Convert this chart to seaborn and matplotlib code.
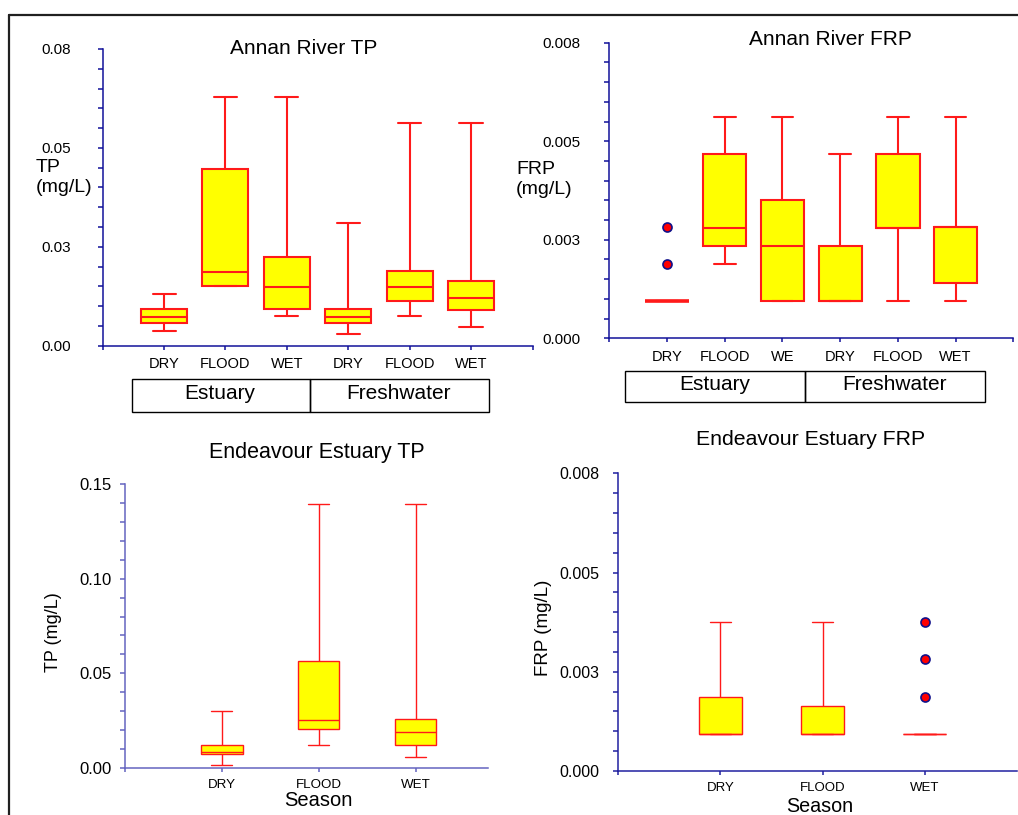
import numpy as np
import pandas as pd
import matplotlib
matplotlib.use("Agg")
import matplotlib.pyplot as plt
import seaborn as sns
from matplotlib.patches import Rectangle
from matplotlib.ticker import MultipleLocator, FixedLocator, FixedFormatter

# ---------------- data ----------------
annan_cats = ["Estuary DRY", "Estuary FLOOD", "Estuary WET",
              "Freshwater DRY", "Freshwater FLOOD", "Freshwater WET"]
annan_tp_ticklabels = ["DRY", "FLOOD", "WET", "DRY", "FLOOD", "WET"]
annan_frp_ticklabels = ["DRY", "FLOOD", "WE", "DRY", "FLOOD", "WET"]
annan_group_labels = ["Estuary", "Freshwater"]

annan_tp_lo = [0.0037, 0.0151, 0.0075, 0.0029, 0.0075, 0.0047]
annan_tp_q1 = [0.0057, 0.0151, 0.0094, 0.0057, 0.0112, 0.0089]
annan_tp_med = [0.0073, 0.0186, 0.0149, 0.0073, 0.0149, 0.0121]
annan_tp_q3 = [0.0094, 0.0446, 0.0225, 0.0094, 0.0188, 0.0164]
annan_tp_hi = [0.0131, 0.0629, 0.0629, 0.0310, 0.0564, 0.0564]

annan_frp_lo = [0.00094, 0.00189, 0.00094, 0.00094, 0.00095, 0.00095]
annan_frp_q1 = [0.00094, 0.00234, 0.00094, 0.00094, 0.00279, 0.00141]
annan_frp_med = [0.00094, 0.00280, 0.00233, 0.00094, 0.00279, 0.00282]
annan_frp_q3 = [0.00094, 0.00468, 0.00352, 0.00234, 0.00468, 0.00282]
annan_frp_hi = [0.00094, 0.00561, 0.00561, 0.00468, 0.00561, 0.00561]
annan_frp_out_cat = ["Estuary DRY", "Estuary DRY"]
annan_frp_out_val = [0.00282, 0.00189]

endv_cats = ["DRY", "FLOOD", "WET"]
endv_tp_lo = [0.0014, 0.0118, 0.0058]
endv_tp_q1 = [0.0071, 0.0207, 0.0118]
endv_tp_med = [0.0085, 0.0251, 0.0191]
endv_tp_q3 = [0.0118, 0.0563, 0.0259]
endv_tp_hi = [0.0298, 0.1398, 0.1398]

endv_frp_lo = [0.00092, 0.00092, 0.00092]
endv_frp_q1 = [0.00092, 0.00092, 0.00092]
endv_frp_med = [0.00092, 0.00092, 0.00092]
endv_frp_q3 = [0.00187, 0.00163, 0.00092]
endv_frp_hi = [0.00375, 0.00375, 0.00092]
endv_frp_out_cat = ["WET", "WET", "WET"]
endv_frp_out_val = [0.00375, 0.00281, 0.00187]

tp_ticks_a = [0.0, 0.025, 0.05, 0.075]
tp_ticklabels_a = ["0.00", "0.03", "0.05", "0.08"]
frp_ticks = [0.0, 0.0025, 0.005, 0.0075]
frp_ticklabels = ["0.000", "0.003", "0.005", "0.008"]
tp_ticks_e = [0.0, 0.05, 0.10, 0.15]
tp_ticklabels_e = ["0.00", "0.05", "0.10", "0.15"]

# ---------------- style ----------------
sns.set_style("ticks")
plt.rcParams['font.family'] = ['Liberation Sans', 'DejaVu Sans']
plt.rcParams['text.color'] = 'black'
plt.rcParams['axes.labelcolor'] = 'black'
plt.rcParams['xtick.color'] = 'black'
plt.rcParams['ytick.color'] = 'black'

W, H = 1018, 815
fig = plt.figure(figsize=(W / 100, H / 100), dpi=100)

YELLOW = "#FFFF00"
RED = "#FF1A1A"


def fx(x):
    return x / W


def fy(y):
    return 1 - y / H


def ax_at(left, top, right, bottom):
    return fig.add_axes([fx(left), fy(bottom), (right - left) / W, (bottom - top) / H])


def draw_boxes(ax, cats, lo, q1, med, q3, hi, width, lw, flat_lw=None):
    rows = []
    for c, a, b, m, d, e in zip(cats, lo, q1, med, q3, hi):
        for v in (a, b, m, d, e):
            rows.append((c, v))
    df = pd.DataFrame(rows, columns=["group", "value"])
    sns.boxplot(data=df, x="group", y="value", order=cats, whis=(0, 100),
                width=width, color=YELLOW, saturation=1, linecolor=RED,
                linewidth=lw, fliersize=0, ax=ax)
    if flat_lw is not None:
        # groups whose whole distribution collapses to one value draw as a thick bar
        for p in ax.patches:
            ext = p.get_path().get_extents(p.get_patch_transform())
            verts = p.get_path().vertices
            if np.ptp(verts[:, 1]) == 0:
                p.set_linewidth(flat_lw)


def draw_outliers(ax, cats, out_cat, out_val, size):
    df = pd.DataFrame({"group": out_cat, "value": out_val})
    sns.stripplot(data=df, x="group", y="value", order=cats, jitter=False,
                  color="#FF0000", edgecolor="#10108A", linewidth=1.2,
                  size=size, ax=ax, zorder=5)


def style_axis(ax, axcol, xlim, xticks, xticklabels, ylim, yticks, yticklabels,
               yminor, xlab_size, ylab_size, xpad, ypad, spw):
    ax.set_xlabel("")
    ax.set_ylabel("")
    ax.set_xlim(*xlim)
    ax.set_ylim(*ylim)
    ax.xaxis.set_major_locator(FixedLocator(xticks))
    ax.xaxis.set_major_formatter(FixedFormatter(xticklabels))
    ax.yaxis.set_major_locator(FixedLocator(yticks))
    ax.yaxis.set_major_formatter(FixedFormatter(yticklabels))
    ax.yaxis.set_minor_locator(MultipleLocator(yminor))
    for s in ["top", "right"]:
        ax.spines[s].set_visible(False)
    for s in ["left", "bottom"]:
        ax.spines[s].set_color(axcol)
        ax.spines[s].set_linewidth(spw)
    ax.tick_params(axis="x", which="major", direction="out", length=3.2, width=spw,
                   color=axcol, labelsize=xlab_size, pad=xpad, labelcolor="black")
    ax.tick_params(axis="y", which="major", direction="out", length=3.6, width=spw,
                   color=axcol, labelsize=ylab_size, pad=ypad, labelcolor="black")
    ax.tick_params(axis="y", which="minor", direction="out", length=3.6, width=spw,
                   color=axcol)
    ax.tick_params(axis="x", which="minor", bottom=False)
    ax.patch.set_alpha(0)


# ---------------- Annan River TP ----------------
ax1 = ax_at(102.7, 49, 533, 345.7)
draw_boxes(ax1, annan_cats, annan_tp_lo, annan_tp_q1, annan_tp_med, annan_tp_q3,
           annan_tp_hi, 0.75, 1.5)
style_axis(ax1, "#12129A", (-1, 6.01), [-1, 0, 1, 2, 3, 4, 5, 6.01],
           [""] + annan_tp_ticklabels + [""], (0, 0.075), tp_ticks_a, tp_ticklabels_a,
           0.005, 10.5, 11, 5, 19, 1.1)
fig.text(fx(303.3), fy(54), "Annan River TP", ha="center", va="baseline", fontsize=15)
fig.text(fx(35.7), fy(177.5), "TP\n(mg/L)", ha="left", va="center", fontsize=14,
         linespacing=1.3)

# group boxes
for (l, r), lab in zip([(131.7, 310.3), (310.3, 489)], annan_group_labels):
    fig.add_artist(Rectangle((fx(l), fy(412.3)), (r - l) / W, (412.3 - 378.7) / H,
                             transform=fig.transFigure, fill=False, edgecolor="black",
                             linewidth=1.0))
    fig.text(fx((l + r) / 2 - 1), fy(399), lab, ha="center", va="baseline", fontsize=15)

# ---------------- Annan River FRP ----------------
ax2 = ax_at(609.3, 42.7, 1013.3, 338.3)
draw_boxes(ax2, annan_cats, annan_frp_lo, annan_frp_q1, annan_frp_med, annan_frp_q3,
           annan_frp_hi, 0.75, 1.5, flat_lw=2.6)
draw_outliers(ax2, annan_cats, annan_frp_out_cat, annan_frp_out_val, 6.5)
style_axis(ax2, "#12129A", (-1, 6.0), [-1, 0, 1, 2, 3, 4, 5, 6.0],
           [""] + annan_frp_ticklabels + [""], (0, 0.0075), frp_ticks, frp_ticklabels,
           0.0005, 10.5, 11, 5, 17, 1.1)
fig.text(fx(830.5), fy(45), "Annan River FRP", ha="center", va="baseline", fontsize=15)
fig.text(fx(516), fy(179.5), "FRP\n(mg/L)", ha="left", va="center", fontsize=14,
         linespacing=1.3)
for (l, r), lab in zip([(624.7, 805), (805, 985)], annan_group_labels):
    fig.add_artist(Rectangle((fx(l), fy(402.3)), (r - l) / W, (402.3 - 370.7) / H,
                             transform=fig.transFigure, fill=False, edgecolor="black",
                             linewidth=1.0))
    fig.text(fx((l + r) / 2), fy(390), lab, ha="center", va="baseline", fontsize=15)

# ---------------- Endeavour Estuary TP ----------------
ax3 = ax_at(124.7, 484.3, 488.3, 767.7)
draw_boxes(ax3, endv_cats, endv_tp_lo, endv_tp_q1, endv_tp_med, endv_tp_q3,
           endv_tp_hi, 0.43, 1.0)
style_axis(ax3, "#6464C0", (-1, 2.75), [-1, 0, 1, 2], [""] + endv_cats,
           (0, 0.15), tp_ticks_e, tp_ticklabels_e, 0.01, 9.6, 12, 5, 6, 1.1)
fig.text(fx(317), fy(458.3), "Endeavour Estuary TP", ha="center", va="baseline",
         fontsize=15.5)
fig.text(fx(318), fy(805.7), "Season", ha="center", va="baseline", fontsize=14.5)
fig.text(fx(53.3), fy(631.7), "TP (mg/L)", ha="center", va="center", rotation=90,
         fontsize=13)

# ---------------- Endeavour Estuary FRP ----------------
ax4 = ax_at(618.3, 473.3, 1016.7, 771)
draw_boxes(ax4, endv_cats, endv_frp_lo, endv_frp_q1, endv_frp_med, endv_frp_q3,
           endv_frp_hi, 0.425, 1.0)
draw_outliers(ax4, endv_cats, endv_frp_out_cat, endv_frp_out_val, 6.5)
style_axis(ax4, "#2020A0", (-1, 2.9), [-1, 0, 1, 2], [""] + endv_cats,
           (0, 0.0075), frp_ticks, frp_ticklabels, 0.0005, 9.5, 11.5, 5, 10, 1.1)
fig.text(fx(810.3), fy(445), "Endeavour Estuary FRP", ha="center", va="baseline",
         fontsize=15.3)
fig.text(fx(819.3), fy(811.7), "Season", ha="center", va="baseline", fontsize=14.2)
fig.text(fx(543.3), fy(628.3), "FRP (mg/L)", ha="center", va="center", rotation=90,
         fontsize=13.5)

for ax in (ax1, ax2, ax3, ax4):
    for line in ax.lines:
        line.set_clip_on(False)

# outer frame
fig.add_artist(plt.Line2D([fx(9), fx(W + 5)], [fy(15), fy(15)], transform=fig.transFigure,
                          color="#202020", linewidth=1.6))
fig.add_artist(plt.Line2D([fx(9), fx(9)], [fy(15), fy(H + 5)], transform=fig.transFigure,
                          color="#202020", linewidth=1.6))

fig.savefig("out.png", dpi=100)
